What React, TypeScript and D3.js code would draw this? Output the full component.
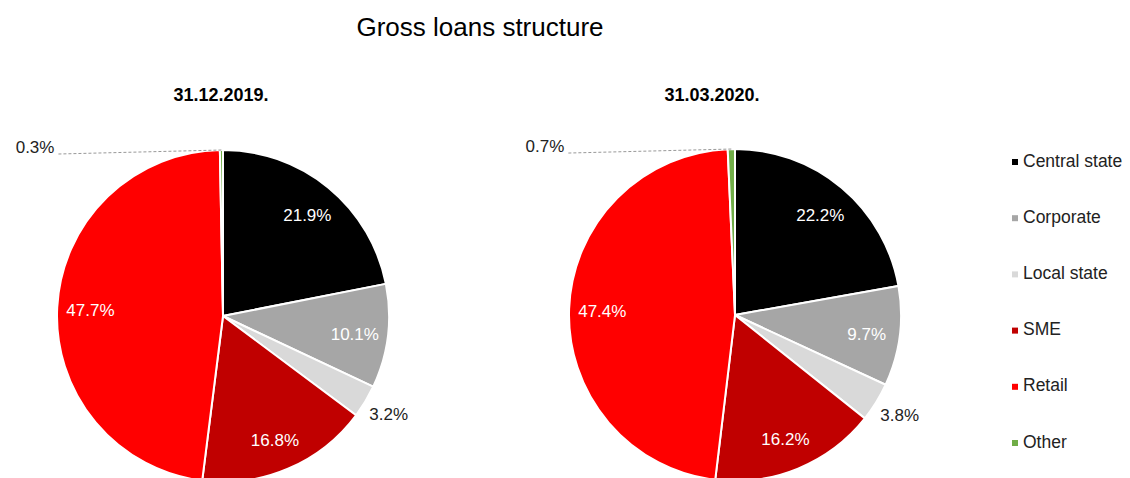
import React from 'react';
import * as d3 from 'd3';

const categories = ['Central state', 'Corporate', 'Local state', 'SME', 'Retail', 'Other'];
const colors = ['#000000', '#a6a6a6', '#d9d9d9', '#c00000', '#ff0000', '#70ad47'];
const values2019 = [21.9, 10.1, 3.2, 16.8, 47.7, 0.3];
const values2020 = [22.2, 9.7, 3.8, 16.2, 47.4, 0.7];
const dates = ['31.12.2019.', '31.03.2020.'];

const width = 1130;
const height = 478;
const radius = 166;
const font = "'Liberation Sans', Arial, sans-serif";

// small slices get their label outside
const insideLimit = 5;

type PieProps = {
  values: number[];
  cx: number;
  cy: number;
  titleX: number;
  title: string;
};

const Pie = ({ values, cx, cy, titleX, title }: PieProps): JSX.Element => {
  const pie = d3
    .pie<number>()
    .sort(null)
    .value((d) => d);
  const arcs = pie(values);
  const arc = d3.arc<d3.PieArcDatum<number>>().innerRadius(0).outerRadius(radius);
  const labelArc = d3
    .arc<d3.PieArcDatum<number>>()
    .innerRadius(radius * 0.8)
    .outerRadius(radius * 0.8);
  const edgeArc = d3
    .arc<d3.PieArcDatum<number>>()
    .innerRadius(radius)
    .outerRadius(radius);

  return (
    <g>
      <text
        x={titleX}
        y={96}
        textAnchor="middle"
        dominantBaseline="middle"
        fontFamily={font}
        fontWeight="bold"
        fontSize={18}
        fill="#000"
      >
        {title}
      </text>
      <g transform={`translate(${cx},${cy})`}>
        {arcs.map((a, i) => (
          <path key={i} d={arc(a) || ''} fill={colors[i]} stroke="#fff" strokeWidth={2} />
        ))}
        {arcs.map((a, i) => {
          const v = values[i].toFixed(1) + '%';
          if (values[i] >= insideLimit) {
            const [x, y] = labelArc.centroid(a);
            return (
              <text
                key={i}
                x={x}
                y={y + 3}
                textAnchor="middle"
                dominantBaseline="middle"
                fontFamily={font}
                fontSize={17}
                fill="#fff"
              >
                {v}
              </text>
            );
          }
          const [ex, ey] = edgeArc.centroid(a);
          if (i === values.length - 1) {
            // tiny slice at the top: dashed leader to the left
            const lx = ex - 163;
            return (
              <g key={i}>
                <path
                  d={`M${lx},${ey + 4}L${ex},${ey}`}
                  stroke="#999"
                  strokeWidth={1}
                  strokeDasharray="3,2"
                  fill="none"
                />
                <text
                  x={lx - 4}
                  y={ey - 2}
                  textAnchor="end"
                  dominantBaseline="middle"
                  fontFamily={font}
                  fontSize={17}
                  fill="#222"
                >
                  {v}
                </text>
              </g>
            );
          }
          return (
            <text
              key={i}
              x={ex + 4}
              y={ey + 14}
              textAnchor="start"
              dominantBaseline="middle"
              fontFamily={font}
              fontSize={17}
              fill="#222"
            >
              {v}
            </text>
          );
        })}
      </g>
    </g>
  );
};

const App = (): JSX.Element => {
  const legendY = d3
    .scalePoint<string>()
    .domain(categories)
    .range([162, 443]);

  return (
    <svg
      width={width}
      height={height}
      style={{ position: 'absolute', left: 0, top: 0, background: '#fff' }}
    >
      <text
        x={480}
        y={29}
        textAnchor="middle"
        dominantBaseline="middle"
        fontFamily={font}
        fontSize={26}
        fill="#000"
      >
        Gross loans structure
      </text>
      <Pie values={values2019} cx={223} cy={316} titleX={221} title={dates[0]} />
      <Pie values={values2020} cx={735} cy={315} titleX={712} title={dates[1]} />
      {categories.map((c, i) => (
        <g key={c} transform={`translate(1012,${legendY(c)})`}>
          <rect x={0} y={-3} width={6} height={6} fill={colors[i]} />
          <text
            x={11}
            y={0}
            dominantBaseline="middle"
            fontFamily={font}
            fontSize={17.5}
            fill="#222"
          >
            {c}
          </text>
        </g>
      ))}
    </svg>
  );
};

export default App;
